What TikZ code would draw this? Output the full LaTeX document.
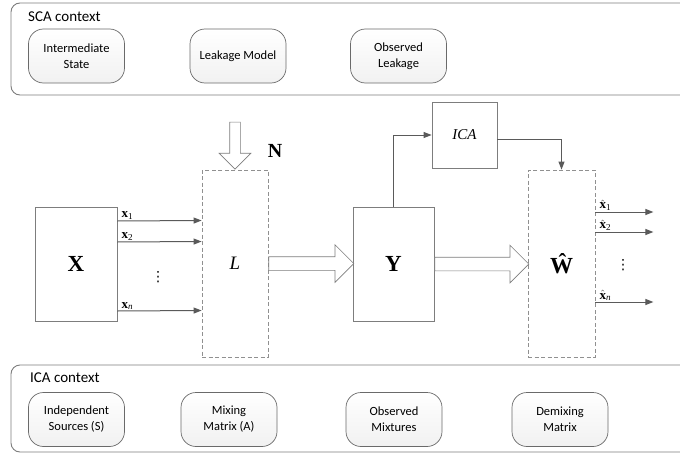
\documentclass[tikz,border=0pt]{standalone}
\usepackage{fontspec}
\setmainfont{Liberation Serif}
\newfontfamily\ctxfont{Carlito}
\newfontfamily\dotfont{DejaVu Sans}
\usetikzlibrary{arrows.meta,shapes.arrows}

\definecolor{linegray}{RGB}{90,90,90}
\definecolor{boxgray}{RGB}{125,125,125}

\tikzset{
  ctxframe/.style={draw=boxgray, line width=0.9pt, rounded corners=9pt},
  ctxbox/.style={draw=boxgray!85!black, line width=0.7pt, rounded corners=15pt,
    top color=white, bottom color=gray!11, minimum width=96pt, minimum height=54pt,
    align=center, font=\ctxfont\fontsize{12.5}{16}\selectfont},
  ctxtitle/.style={anchor=west, inner sep=0pt, font=\ctxfont\fontsize{15}{17}\selectfont},
  blk/.style={draw=boxgray, line width=0.8pt, fill=white},
  dashblk/.style={draw=boxgray!85, line width=0.8pt, dash pattern=on 4pt off 2.5pt},
  sarrow/.style={draw=linegray, line width=1pt, -{Triangle[length=8pt,width=6pt]}},
  bigarrow/.style={single arrow, draw=boxgray, line width=0.7pt, fill=white,
    inner sep=0pt, inner ysep=6.5pt, single arrow head extend=12pt},
  sublab/.style={anchor=south west, inner sep=1pt, font=\fontsize{13}{14}\selectfont},
  dotlab/.style={font=\dotfont\fontsize{14}{16}\selectfont, inner sep=0pt},
}

\begin{document}
\begin{tikzpicture}[x=1pt,y=-1pt]
\useasboundingbox (0,0) rectangle (680,455);
\clip (0,0) rectangle (680,455);

% context frames
\draw[ctxframe] (11,3) rectangle (700,95);
\node[ctxtitle] (scat) at (28,17) {SCA context};
\node[ctxbox] (inter) at (76.5,56) {Intermediate\\State};
\node[ctxbox] (leak) at (238,56) {Leakage Model};
\node[ctxbox] (obsl) at (398.5,56) {Observed\\Leakage};

\draw[ctxframe] (11,365) rectangle (700,452);
\node[ctxtitle] (icat) at (30,378) {ICA context};
\node[ctxbox] (indep) at (76.5,419.5) {Independent\\Sources (S)};
\node[ctxbox] (mix) at (229,419.5) {Mixing\\Matrix (A)};
\node[ctxbox] (obsm) at (394,419.5) {Observed\\Mixtures};
\node[ctxbox] (demix) at (560,419.5) {Demixing\\Matrix};

% blocks
\node[blk, minimum width=82pt, minimum height=114pt, font=\fontsize{23}{25}\selectfont] (X) at (76,264) {\textbf{X}};
\node[dashblk, minimum width=66pt, minimum height=187pt, font=\fontsize{19}{21}\selectfont] (L) at (235,263.5) {\textit{L}};
\node[blk, minimum width=81pt, minimum height=114pt, font=\fontsize{23}{25}\selectfont] (Y) at (393.5,264) {\textbf{Y}};
\node[blk, minimum width=65pt, minimum height=66pt, font=\fontsize{15}{17}\selectfont] (ICA) at (464.5,135) {\textit{ICA}};
\node[dashblk, minimum width=67pt, minimum height=187pt, font=\fontsize{23}{25}\selectfont] (W) at (561.5,263.5) {\textbf{Ŵ}};

% noise input
\node[bigarrow, rotate=-90, minimum height=47pt, inner ysep=5pt,
  single arrow head extend=10.5pt, anchor=tip] (narrow) at (L.north) {};
\node[font=\fontsize{20}{22}\selectfont] (N) at (275,151) {\textbf{N}};

% big arrows
\node[bigarrow, minimum height=85pt, anchor=tail] (ly) at (L.east) {};
\node[bigarrow, minimum height=94pt, anchor=tail] (yw) at (Y.east) {};

% inputs x_i
\foreach \dy/\lab in {43/1, 22/2, -47/\textit{n}}{
  \draw[sarrow] ([yshift=\dy pt]X.east) -- ([yshift=\dy pt]L.west);
  \node[sublab] at ([xshift=3pt,yshift=\dy pt]X.east) {\textbf{x}\textsubscript{\lab}};
}
\node[dotlab] (xdots) at (158,277) {⋮};

% outputs
\foreach \dy/\lab in {51.5/1, 31.5/2, -38.5/\textit{n}}{
  \draw[sarrow] ([yshift=\dy pt]W.east) -- ([xshift=58pt,yshift=\dy pt]W.east);
  \node[sublab] at ([xshift=3pt,yshift=\dy pt]W.east) {$\hat{\textbf{x}}$\textsubscript{\lab}};
}
\node[dotlab] (wdots) at (623,265) {⋮};

% ICA path
\draw[sarrow] (Y.north) |- (ICA.west);
\draw[sarrow] ([yshift=-4pt]ICA.east) -| (W.north);
\end{tikzpicture}
\end{document}
